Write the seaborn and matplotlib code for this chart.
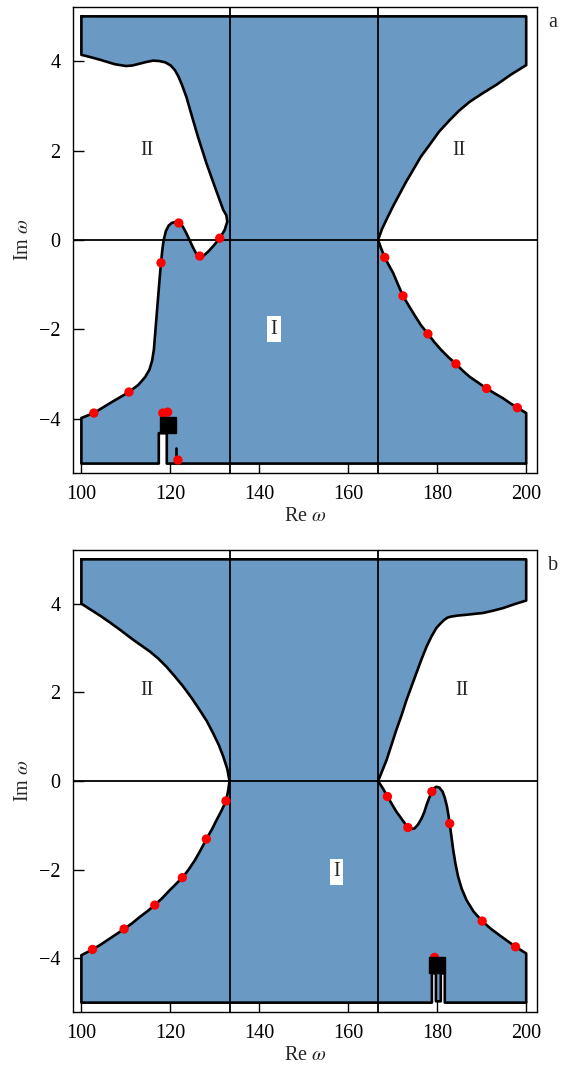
import numpy as np
import matplotlib
matplotlib.use("Agg")
import matplotlib.pyplot as plt
import seaborn as sns

# ---------------- data ----------------
# panel a: left boundary (bottom -> top)
a_left_x = [100.0, 102.8, 106.4, 110.7, 112.8, 114.3, 115.3, 115.9, 116.3, 116.6, 117.2, 117.6, 117.9,
            118.2, 118.5, 119.0, 119.6, 120.3, 121.0, 121.9, 122.8, 123.6, 124.4, 125.1, 125.8, 126.6,
            127.5, 128.5, 129.8, 131.1, 132.2, 132.8, 132.6, 131.9, 130.0, 128.1, 126.2,
            124.7, 123.6, 122.6, 121.8, 121.0, 120.1, 118.9, 117.6, 116.1, 114.6, 113.0, 111.4,
            110.0, 107.5, 104.2, 102.0, 100.0]
a_left_y = [-3.98, -3.87, -3.65, -3.40, -3.24, -3.07, -2.90, -2.70, -2.45, -2.08, -1.34, -0.85, -0.51,
            -0.22, 0.00, 0.20, 0.32, 0.38, 0.40, 0.38, 0.30, 0.15, -0.02, -0.17, -0.30, -0.36,
            -0.35, -0.26, -0.12, 0.04, 0.22, 0.41, 0.55, 0.67, 1.19, 1.72, 2.31,
            2.82, 3.20, 3.47, 3.66, 3.80, 3.90, 3.97, 4.00, 4.01, 3.98, 3.94, 3.90,
            3.89, 3.93, 4.03, 4.09, 4.14]
# panel a: right boundary (top -> bottom)
a_right_x = [200.0, 196.6, 193.3, 190.2, 187.3, 184.9, 182.8, 180.4, 178.3, 176.3, 174.6, 173.0, 171.6,
             170.2, 168.9, 167.6, 166.7,
             167.4, 168.2, 169.1, 170.1, 171.2, 172.3, 173.6, 174.9, 176.3, 177.9, 179.4, 180.9,
             182.5, 184.2, 185.7, 187.3, 189.2, 191.1, 192.9, 194.8, 196.4, 198.0, 200.0]
a_right_y = [3.91, 3.70, 3.47, 3.28, 3.09, 2.89, 2.68, 2.42, 2.13, 1.86, 1.57, 1.30, 1.04,
             0.78, 0.52, 0.25, 0.00,
             -0.19, -0.39, -0.56, -0.74, -1.00, -1.25, -1.47, -1.68, -1.90, -2.10, -2.29, -2.46,
             -2.62, -2.77, -2.92, -3.06, -3.19, -3.32, -3.43, -3.54, -3.65, -3.75, -3.87]
a_slit_x = [119.2, 117.4]
a_slit_top = -4.32
a_stub_x = [121.3, 121.3]
a_stub_y = [-4.65, -4.90]
a_dots_x = [102.8, 110.7, 117.9, 121.9, 126.6, 131.1, 118.3, 119.4, 121.7,
            168.2, 172.3, 177.9, 184.2, 191.1, 198.0]
a_dots_y = [-3.87, -3.40, -0.51, 0.38, -0.36, 0.04, -3.87, -3.85, -4.92,
            -0.39, -1.25, -2.10, -2.77, -3.32, -3.75]
a_square = (119.4, -4.14)

# panel b: left boundary (bottom -> top)
b_left_x = [100.0, 102.5, 104.2, 106.0, 107.8, 109.6, 111.4, 113.1, 114.8, 116.5, 118.2, 119.9, 121.3,
            122.7, 124.1, 125.5, 126.8, 128.1, 129.3, 130.4, 131.5, 132.5, 133.0, 133.3,
            132.8, 131.9, 130.9, 129.6, 128.2, 126.6, 124.8, 122.9, 121.0, 119.1, 117.3, 115.4,
            113.7, 112.0, 110.4, 108.7, 106.5, 104.2, 102.0, 100.0]
b_left_y = [-3.93, -3.80, -3.70, -3.58, -3.46, -3.34, -3.21, -3.07, -2.94, -2.80, -2.64, -2.46, -2.32,
            -2.18, -2.00, -1.79, -1.56, -1.31, -1.10, -0.88, -0.67, -0.45, -0.22, 0.00,
            0.27, 0.55, 0.81, 1.08, 1.35, 1.60, 1.87, 2.13, 2.36, 2.58, 2.76, 2.92,
            3.04, 3.16, 3.28, 3.41, 3.57, 3.73, 3.87, 4.00]
# panel b: right boundary (top -> bottom)
b_right_x = [200.0, 197.4, 194.8, 192.5, 190.3, 188.4, 186.6, 184.5, 183.2, 182.4, 181.5, 180.7, 179.8,
             178.7, 177.6, 176.4, 175.3, 174.2, 173.1, 172.0, 170.8, 169.7, 168.6, 167.6, 166.7,
             167.8, 168.8, 169.8, 170.8, 172.1, 173.4, 174.2, 174.9, 175.7, 176.5, 177.1, 177.6,
             178.2, 178.8, 179.3, 179.8, 180.5, 181.2, 181.7, 182.2, 182.5, 182.8, 183.2, 183.6,
             184.1, 184.7, 185.5, 186.6, 188.2, 190.1, 192.0, 194.0, 195.8, 197.6, 200.0]
b_right_y = [4.07, 3.99, 3.90, 3.84, 3.79, 3.77, 3.75, 3.73, 3.71, 3.69, 3.63, 3.55, 3.45,
             3.26, 3.03, 2.73, 2.43, 2.13, 1.83, 1.49, 1.15, 0.81, 0.47, 0.22, 0.00,
             -0.17, -0.35, -0.52, -0.69, -0.87, -1.05, -1.08, -1.07, -0.98, -0.84, -0.70, -0.54,
             -0.38, -0.24, -0.16, -0.13, -0.15, -0.24, -0.38, -0.58, -0.76, -0.96, -1.26, -1.56,
             -1.87, -2.16, -2.43, -2.69, -2.95, -3.16, -3.33, -3.48, -3.61, -3.74, -3.89]
b_slit_x = [181.7, 180.8, 179.7, 178.8]
b_slit_top = -4.34
b_dots_x = [102.5, 109.6, 116.5, 122.7, 128.1, 132.5, 168.8, 173.4, 178.8, 182.8, 190.1, 197.6, 179.4]
b_dots_y = [-3.80, -3.34, -2.80, -2.18, -1.31, -0.45, -0.35, -1.05, -0.24, -0.96, -3.16, -3.74, -3.98]
b_square = (180.0, -4.16)

xticks = [100, 120, 140, 160, 180, 200]
yticks = [-4, -2, 0, 2, 4]
vlines = [400 / 3, 500 / 3]

# ---------------- style ----------------
sns.set_style("white")
plt.rcParams["font.family"] = ["Liberation Serif", "DejaVu Serif"]
plt.rcParams["mathtext.fontset"] = "stix"
plt.rcParams["axes.unicode_minus"] = True

FILL = "#6a9ac4"
FS = 14.5

fig = plt.figure(figsize=(5.61, 10.73), dpi=100)
ax_a = fig.add_axes([0.130, 0.5592, 0.827, 0.4343])
ax_b = fig.add_axes([0.130, 0.0569, 0.827, 0.4305])


def build_polygon(left_x, left_y, right_x, right_y, slit):
    xs, ys = [], []
    xs += [100.0, 200.0]
    ys += [5.0, 5.0]
    xs += list(right_x)
    ys += list(right_y)
    xs += [200.0]
    ys += [-5.0]
    xs += slit[0]
    ys += slit[1]
    xs += [100.0]
    ys += [-5.0]
    xs += list(left_x)
    ys += list(left_y)
    xs += [100.0]
    ys += [5.0]
    return np.array(xs), np.array(ys)


a_slit = ([a_slit_x[0], a_slit_x[0], a_slit_x[1], a_slit_x[1]], [-5.0, a_slit_top, a_slit_top, -5.0])
b_slit = ([b_slit_x[0], b_slit_x[0], b_slit_x[1], b_slit_x[1], b_slit_x[2], b_slit_x[2], b_slit_x[3], b_slit_x[3]],
          [-5.0, b_slit_top, b_slit_top, -4.97, -4.97, b_slit_top, b_slit_top, -5.0])

panels = [
    (ax_a, a_left_x, a_left_y, a_right_x, a_right_y, a_slit, a_dots_x, a_dots_y, a_square, "a",
     [(114.7, 2.0, "II"), (184.8, 2.0, "II")], (143.3, -2.0)),
    (ax_b, b_left_x, b_left_y, b_right_x, b_right_y, b_slit, b_dots_x, b_dots_y, b_square, "b",
     [(114.7, 2.05, "II"), (185.6, 2.05, "II")], (157.4, -2.05)),
]

for ax, lx, ly, rx, ry, slit, dx, dy, sq, lab, iis, ipos in panels:
    px, py = build_polygon(lx, ly, rx, ry, slit)
    ax.fill(px, py, color=FILL, lw=0, zorder=1)
    for v in vlines:
        ax.axvline(v, color="black", lw=1.3, zorder=2)
    ax.axhline(0, color="black", lw=1.3, zorder=2)
    sns.lineplot(x=px, y=py, sort=False, estimator=None, color="black", lw=1.9, ax=ax, zorder=3)
    if lab == "a":
        sns.lineplot(x=a_stub_x, y=a_stub_y, sort=False, estimator=None, color="black", lw=1.9,
                     ax=ax, zorder=3)
    sns.scatterplot(x=dx, y=dy, color="red", s=45, edgecolor="none", ax=ax, zorder=4)
    ax.plot([sq[0]], [sq[1]], marker="s", ms=11.5, color="black", ls="none", zorder=5)
    for tx, ty, tt in iis:
        ax.text(tx, ty, tt, fontsize=FS, ha="center", va="center", zorder=6)
    ax.text(ipos[0], ipos[1], "I", fontsize=FS, ha="center", va="center", zorder=6,
            bbox=dict(facecolor="white", edgecolor="none", pad=2.5))
    ax.text(1.034, 0.967, lab, transform=ax.transAxes, fontsize=FS, ha="center", va="center")

    ax.set_xlim(98.1, 202.4)
    ax.set_ylim(-5.21, 5.21)
    ax.set_xticks(xticks)
    ax.set_yticks(yticks)
    ax.tick_params(direction="in", length=8, width=1, labelsize=FS, pad=9,
                   bottom=True, left=True, top=False, right=False, colors="black")
    for s in ax.spines.values():
        s.set_color("black")
        s.set_linewidth(1.0)
    ax.set_xlabel(r"Re $\omega$", fontsize=FS, labelpad=2)
    ax.set_ylabel(r"Im $\omega$", fontsize=FS, labelpad=4)

fig.savefig("out.png", dpi=100)
